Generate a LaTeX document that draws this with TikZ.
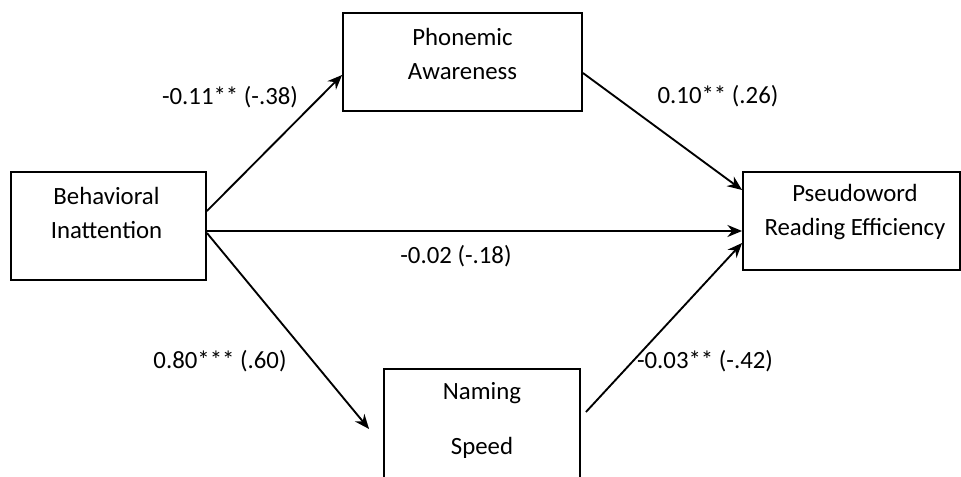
\documentclass[tikz,border=0pt]{standalone}
\usepackage{fontspec}
\setmainfont{Carlito}
\usetikzlibrary{arrows.meta,calc}

\tikzset{
  box/.style={draw, line width=1.4pt, inner sep=0pt},
  lbl/.style={align=center, inner sep=0pt, font=\fontsize{18.6}{25.5}\selectfont},
  arr/.style={line width=1.4pt, -{Stealth[length=11pt,width=9pt]}},
}

\begin{document}
\begin{tikzpicture}[x=0.75pt, y=-0.75pt]
    \useasboundingbox (0,0) rectangle (961,477);
    \clip (0,0) rectangle (961,477);
    % boxes
    \node[box, minimum width=146.25pt, minimum height=81pt] (BI) at (108.5,226) {};
    \node[box, minimum width=179.25pt, minimum height=73.5pt] (PA) at (462.5,62) {};
    \node[box, minimum width=162.75pt, minimum height=73.5pt] (PWR) at (851.5,221) {};
    \node[box, minimum width=147pt, minimum height=102pt] (NS) at (482,437) {};
    % box texts
    \node[lbl] (BIt) at (106.5,213) {Behavioral\\Inattention};
    \node[lbl] (PAt) at (462.5,53.5) {Phonemic\\Awareness};
    \node[lbl] (PWRt) at (855,212.5) {Pseudoword\\Reading Efficiency};
    \node[lbl] (NSt) at (482,420.5) {Naming\\[15.75pt]Speed};
    % paths
    \draw[arr] ($(BI.east)+(0,-15)$) -- ($(PA.west)+(0,13)$);
    \draw[arr] ($(PA.east)+(0,11)$) -- ($(PWR.west)+(0,-31)$);
    \draw[arr] ($(BI.east)+(0,5)$) -- ($(PWR.west)+(0,10)$);
    \coordinate (NSin) at ($(NS.west)+(-14,-8)$);
    \draw[arr] ($(BI.east)+(0,7)$) -- (NSin);
    \draw[arr] ($(NS.east)+(5,-25)$) -- ($(PWR.west)+(0,22)$);
    % coefficients
    \node[lbl] (c1) at (230,97) {-0.11** (-.38)};
    \node[lbl] (c2) at (718,96) {0.10** (.26)};
    \node[lbl] (c3) at (456,256) {-0.02 (-.18)};
    \node[lbl] (c4) at (220,361) {0.80*** (.60)};
    \node[lbl] (c5) at (705,361) {-0.03** (-.42)};
\end{tikzpicture}
\end{document}
